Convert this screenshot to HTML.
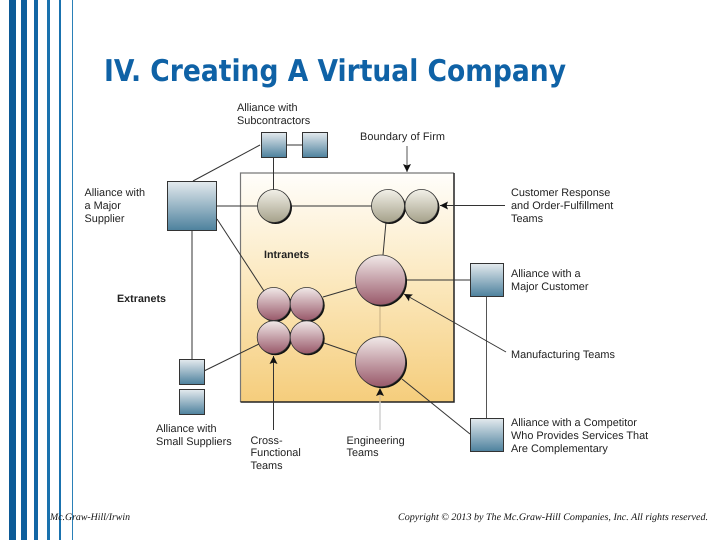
<!DOCTYPE html>
<html><head><meta charset="utf-8"><style>
html,body{margin:0;padding:0;background:#fff;width:720px;height:540px;overflow:hidden}
svg{display:block;text-rendering:geometricPrecision}
.l{font-family:"Liberation Sans",sans-serif;font-size:10.9px;fill:#222}
.b{font-family:"Liberation Sans",sans-serif;font-size:10.7px;font-weight:bold;fill:#222}
.f{font-family:"Liberation Serif",serif;font-style:italic;font-size:10px;fill:#111}
</style></head><body>
<svg width="720" height="540" viewBox="0 0 720 540" xmlns="http://www.w3.org/2000/svg">
<defs>
<linearGradient id="bg" x1="0" y1="0" x2="0" y2="1"><stop offset="0" stop-color="#fffefb"/><stop offset="0.5" stop-color="#fbe7bb"/><stop offset="1" stop-color="#f5cd7c"/></linearGradient>
<linearGradient id="sq" x1="0" y1="0" x2="0" y2="1"><stop offset="0" stop-color="#e4eaee"/><stop offset="1" stop-color="#4d819d"/></linearGradient>
<linearGradient id="pk" x1="0" y1="0" x2="0" y2="1"><stop offset="0" stop-color="#f1e9e8"/><stop offset="1" stop-color="#99596a"/></linearGradient>
<linearGradient id="tn" x1="0" y1="0" x2="0" y2="1"><stop offset="0" stop-color="#f2f0e8"/><stop offset="1" stop-color="#a5a18a"/></linearGradient>
<marker id="a" markerWidth="9" markerHeight="8" refX="8" refY="4" orient="auto" markerUnits="userSpaceOnUse"><path d="M0 0L8 4L0 8L1.5 4Z" fill="#111"/></marker>
</defs>
<rect x="9" y="0" width="7" height="540" fill="#0c5a96"/>
<rect x="21" y="0" width="6" height="540" fill="#0e5f9c"/>
<rect x="34" y="0" width="4" height="540" fill="#1266a5"/>
<rect x="47" y="0" width="3" height="540" fill="#1a72ae"/>
<rect x="59" y="0" width="2" height="540" fill="#1a72ae"/>
<rect x="72" y="0" width="1" height="540" fill="#2a80b8"/>
<text x="104" y="81" textLength="462" lengthAdjust="spacingAndGlyphs" style="font-family:'DejaVu Sans',sans-serif;font-weight:bold;font-size:30px;fill:#0f62a6">IV. Creating A Virtual Company</text>

<rect x="240.5" y="173" width="213.5" height="229" fill="url(#bg)"/>
<path d="M240.5 402V173H454" fill="none" stroke="#777" stroke-width="1.2"/>
<path d="M454 173V402H240.5" fill="none" stroke="#222" stroke-width="1.5"/>

<g stroke="#333" stroke-width="1" fill="none">
<path d="M260 145L193 181"/>
<path d="M286 145H302"/>
<path d="M273.5 157V190"/>
<path d="M216 206H372"/>
<path d="M192 231V359" stroke="#555" stroke-width="1.2"/>
<path d="M217 219L264 291"/>
<path d="M204 371L259 344"/>
<path d="M386 222L383 255"/>
<path d="M406 280H470"/>
<path d="M486.5 296V418" stroke="#555"/>
<path d="M323 297L357 287"/>
<path d="M324 343L356 354"/>
<path d="M470 434L402 379"/>
<path d="M380 305V337" stroke="#d8bf90" stroke-width="1.5"/>
</g>

<g fill="#111">
<circle cx="275.5" cy="207.5" r="16.5"/><circle cx="389.5" cy="207.5" r="16.5"/><circle cx="423" cy="207.5" r="16.5"/>
<circle cx="275.2" cy="305.5" r="16.5"/><circle cx="308.2" cy="305.5" r="16.5"/><circle cx="275.2" cy="338.8" r="16.5"/><circle cx="308.2" cy="338.8" r="16.5"/>
<circle cx="382" cy="281.5" r="25"/><circle cx="382" cy="363.2" r="25"/>
</g>
<g stroke="#333" stroke-width="0.8">
<g fill="url(#tn)"><circle cx="274" cy="206" r="16.5"/><circle cx="388" cy="206" r="16.5"/><circle cx="421.5" cy="206" r="16.5"/></g>
<g fill="url(#pk)"><circle cx="273.7" cy="304" r="16.5"/><circle cx="306.7" cy="304" r="16.5"/><circle cx="273.7" cy="337.3" r="16.5"/><circle cx="306.7" cy="337.3" r="16.5"/>
<circle cx="380.5" cy="280" r="25"/><circle cx="380.5" cy="361.7" r="25"/></g>
</g>

<g fill="url(#sq)" stroke="#333" stroke-width="1">
<rect x="167.5" y="181.5" width="49" height="49"/>
<rect x="261.5" y="132.5" width="25" height="25"/>
<rect x="302.5" y="132.5" width="25" height="25"/>
<rect x="470.5" y="263.5" width="33" height="33"/>
<rect x="470.5" y="418.5" width="33" height="33"/>
<rect x="179.5" y="359.5" width="25" height="25"/>
<rect x="179.5" y="389.5" width="25" height="25"/>
</g>

<g stroke="#333" stroke-width="1" fill="none">
<path d="M407 146V172" marker-end="url(#a)" stroke="#555"/>
<path d="M505 205.5H440" marker-end="url(#a)"/>
<path d="M506 352L404 294" marker-end="url(#a)"/>
<path d="M273.5 430V356" marker-end="url(#a)"/>
<path d="M380 430V402" stroke="#d0d0d0" stroke-width="1.5"/>
<path d="M380 402V388" stroke="#d8bf90" stroke-width="1.5" marker-end="url(#a)"/>
</g>

<text class="l" x="237" y="111">Alliance with</text>
<text class="l" x="237" y="124">Subcontractors</text>
<text class="l" x="360" y="140" textLength="85">Boundary of Firm</text>
<text class="l" x="84.5" y="196">Alliance with</text>
<text class="l" x="84.5" y="209">a Major</text>
<text class="l" x="84.5" y="222">Supplier</text>
<text class="b" x="264" y="258">Intranets</text>
<text class="b" x="117" y="302" textLength="49">Extranets</text>
<text class="l" x="511" y="196">Customer Response</text>
<text class="l" x="511" y="209">and Order-Fulfillment</text>
<text class="l" x="511" y="222">Teams</text>
<text class="l" x="511" y="277">Alliance with a</text>
<text class="l" x="511" y="290">Major Customer</text>
<text class="l" x="511" y="358">Manufacturing Teams</text>
<text class="l" x="511" y="426">Alliance with a Competitor</text>
<text class="l" x="511" y="439">Who Provides Services That</text>
<text class="l" x="511" y="452">Are Complementary</text>
<text class="l" x="156" y="432">Alliance with</text>
<text class="l" x="156" y="445">Small Suppliers</text>
<text class="l" x="250.500" y="444">Cross-</text>
<text class="l" x="250.500" y="456">Functional</text>
<text class="l" x="250.500" y="469">Teams</text>
<text class="l" x="346.500" y="444">Engineering</text>
<text class="l" x="346.500" y="456">Teams</text>

<text class="f" x="50" y="520" textLength="80" lengthAdjust="spacingAndGlyphs">Mc.Graw-Hill/Irwin</text>
<text class="f" x="398" y="520" textLength="310" lengthAdjust="spacingAndGlyphs">Copyright © 2013 by The Mc.Graw-Hill Companies, Inc. All rights reserved.</text>
</svg>
</body></html>
